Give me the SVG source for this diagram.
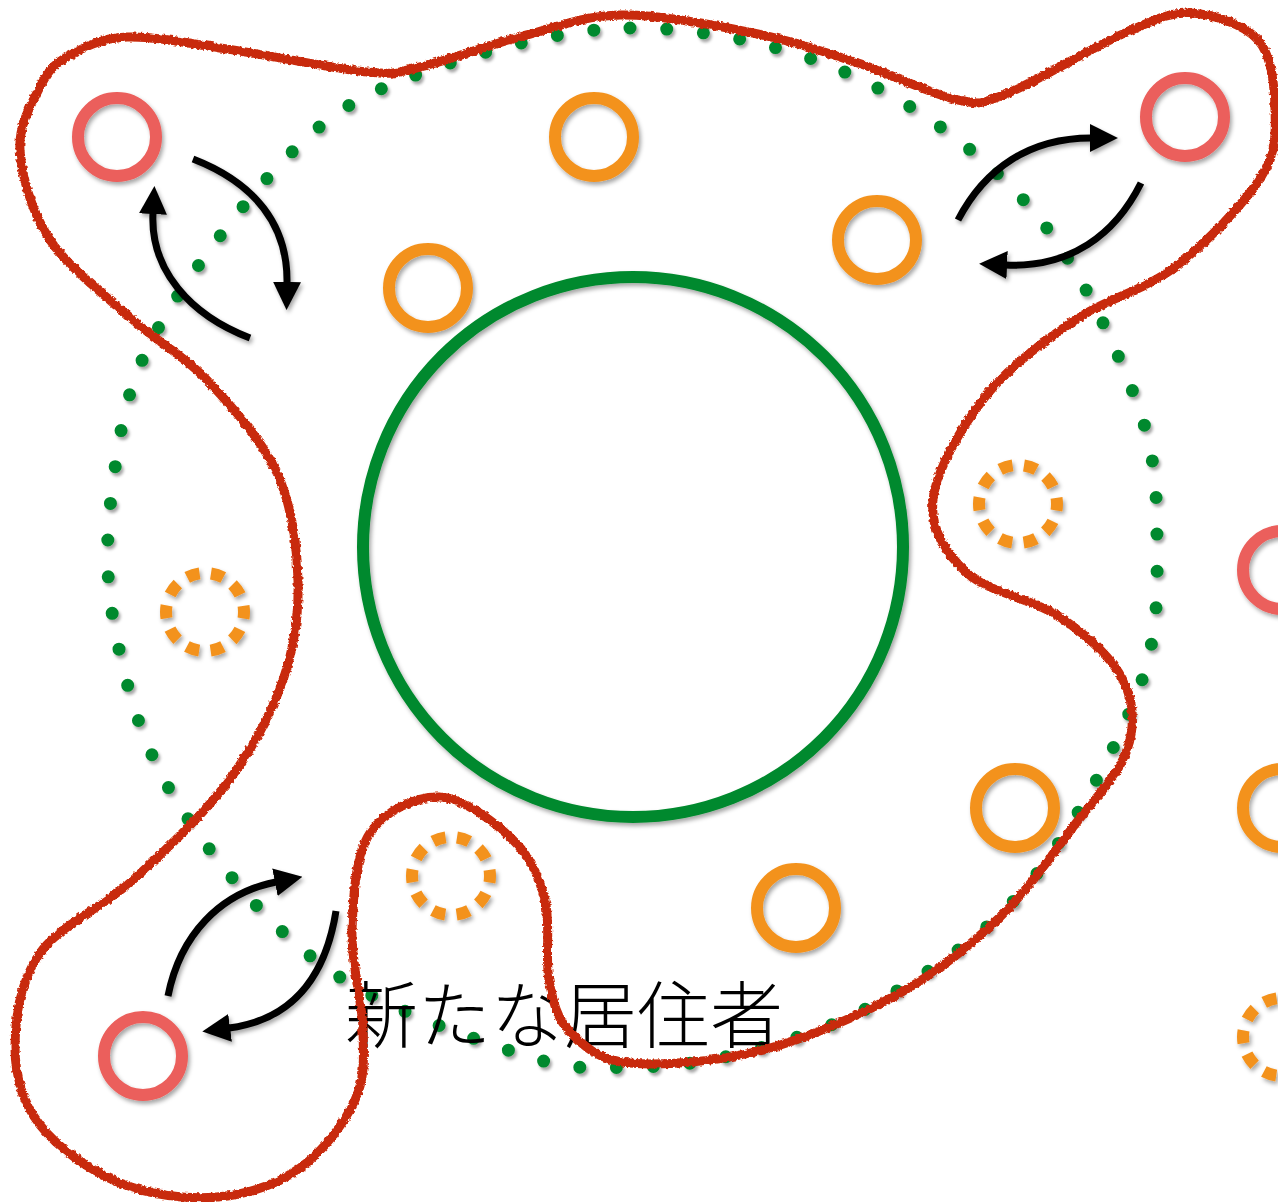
<svg xmlns="http://www.w3.org/2000/svg" width="1278" height="1202" viewBox="0 0 1278 1202">
<style>
.ring{fill:none;stroke-width:12}
.red{stroke:#EB5F5B}
.org{stroke:#F3921E}
.dash{stroke-dasharray:13 11.5;stroke-dashoffset:6.5}
.arrow{fill:none;stroke:#000;stroke-width:7;marker-end:url(#ah)}
.lbl{font-family:"Noto Sans CJK JP","Noto Sans",sans-serif;font-size:73px;font-weight:300;fill:#000}
</style>
<defs>
<filter id="sh" x="-30%" y="-30%" width="160%" height="160%">
<feDropShadow dx="2" dy="3" stdDeviation="2" flood-color="#000" flood-opacity="0.35"/>
</filter>
<filter id="dsh" filterUnits="userSpaceOnUse" x="0" y="0" width="1278" height="1202">
<feDropShadow dx="2" dy="3" stdDeviation="1.8" flood-color="#000" flood-opacity="0.35"/>
</filter>
<filter id="rough" filterUnits="userSpaceOnUse" x="0" y="0" width="1278" height="1202">
<feTurbulence type="fractalNoise" baseFrequency="0.3" numOctaves="3" seed="3" result="n"/>
<feDisplacementMap in="SourceGraphic" in2="n" scale="4" xChannelSelector="R" yChannelSelector="G"/>
</filter>
<marker id="ah" markerUnits="userSpaceOnUse" markerWidth="28" markerHeight="28" viewBox="0 0 26 26" refX="1" refY="13" orient="auto">
<path d="M0,0 L26,13 L0,26 Z" fill="#000"/>
</marker>
</defs>
<rect width="1278" height="1202" fill="#fff"/>

<g id="dotted-boundary" filter="url(#dsh)">
<path d="M630,28 C702.3,27.5 780.5,43.3 847,73 C913.5,102.7 980.8,151.5 1029,206 C1077.2,260.5 1114.7,343.2 1136,400 C1157.3,456.8 1156.8,498 1157,547 C1157.2,596 1158.7,637.5 1137,694 C1115.3,750.5 1069.8,834.8 1027,886 C984.2,937.2 927,973.3 880,1001 C833,1028.7 786,1041 745,1052 C704,1063 671,1066.5 634,1067 C597,1067.5 575,1072 523,1055 C471,1038 380.2,1008 322,965 C263.8,922 208.7,853.8 174,797 C139.3,740.2 124,677.7 114,624 C104,570.3 107,523.7 114,475 C121,426.3 126.8,385.3 156,332 C185.2,278.7 246.2,197.7 289,155 C331.8,112.3 356.2,97.2 413,76 C469.8,54.8 557.7,28.5 630,28 Z" fill="none" stroke="#06892D" stroke-width="13" stroke-linecap="round" stroke-dasharray="0 36.8"/>
</g>

<g id="center-circle" filter="url(#sh)">
<circle cx="633" cy="547" r="270" fill="none" stroke="#06892D" stroke-width="12"/>
</g>

<g id="nodes" filter="url(#sh)">
<g id="resident-red-1"><circle class="ring red" cx="117" cy="137" r="39"/></g>
<g id="resident-red-2"><circle class="ring red" cx="1185" cy="117" r="39"/></g>
<g id="resident-red-3"><circle class="ring red" cx="143" cy="1056" r="39"/></g>
<g id="resident-red-4"><circle class="ring red" cx="1282" cy="570" r="39"/></g>
<g id="resident-orange-1"><circle class="ring org" cx="594" cy="137" r="39"/></g>
<g id="resident-orange-2"><circle class="ring org" cx="428" cy="288" r="39"/></g>
<g id="resident-orange-3"><circle class="ring org" cx="877" cy="240" r="39"/></g>
<g id="resident-orange-4"><circle class="ring org" cx="1015" cy="808" r="39"/></g>
<g id="resident-orange-5"><circle class="ring org" cx="796" cy="908" r="39"/></g>
<g id="resident-orange-6"><circle class="ring org" cx="1282" cy="808" r="39"/></g>
<g id="new-resident-1"><circle class="ring org dash" cx="205" cy="612" r="39"/></g>
<g id="new-resident-2"><circle class="ring org dash" cx="1018" cy="504" r="39"/></g>
<g id="new-resident-3"><circle class="ring org dash" cx="451" cy="876" r="39"/></g>
<g id="new-resident-4"><circle class="ring org dash" cx="1282" cy="1037" r="39"/></g>
</g>

<g id="connectors" filter="url(#sh)">
<path class="arrow" d="M193,159 C255,183 288,225 287,283"/>
<path class="arrow" d="M250,338 C190,315 150,270 153,213"/>
<path class="arrow" d="M958,220 C985,168 1030,138 1091,138"/>
<path class="arrow" d="M1141,183 C1115,235 1070,268 1006,265"/>
<path class="arrow" d="M168,996 C180,935 220,893 276,882"/>
<path class="arrow" d="M336,911 C325,980 290,1020 229,1028"/>
</g>

<g id="label">
<text class="lbl" x="345" y="1042">新たな居住者</text>
</g>

<g id="red-boundary" filter="url(#rough)">
<path d="M67,57 C81.5,48.7 99.3,38.2 127,37 S193,44.2 233,50 S335.8,69.2 367,72 S394.5,72.8 420,67 S486.7,45.7 520,37 S581.2,15.7 620,15 S713.3,25 753,33 S823.8,51.8 858,63 S933,95 958,100 S980.2,104.2 1008,93 S1094.5,46.3 1125,33 S1168.8,11.8 1191,13 S1244,24.2 1258,40 S1274.5,85.2 1275,108 S1277.7,150.5 1261,177 S1206,243.2 1175,267 S1106.7,298.3 1075,320 S1008.7,367 985,397 S936,470.7 933,500 S945.8,553.5 967,573 S1034,599.2 1060,617 S1111.8,657.8 1123,680 S1135.3,725.5 1127,750 S1094.2,799.2 1073,827 S1028.8,889.3 1000,917 S939.5,970.8 900,993 S808,1038.3 763,1050 S662.2,1066 630,1063 S583.5,1045.8 570,1032 S553.2,1002 549,980 S551,923.3 545,900 S530.5,857.2 513,840 S463.8,798.2 440,797 S384.7,810.8 370,833 S353.2,897.2 352,930 S362.5,1001.7 363,1030 S365.5,1077 355,1100 S323,1151.8 300,1168 S247,1194.5 217,1197 S149.5,1195 120,1183 S57.5,1147.7 40,1125 S15,1075.7 15,1047 S20.3,980.8 40,953 S101.8,908.3 133,880 S202,816.3 227,783 S271.2,713.8 283,680 S299,614.5 298,580 S292.2,506.3 277,473 S231,405.5 207,380 S159.2,343.3 133,320 S68.8,268.3 50,240 S21.7,175.5 20,150 S32.2,102.5 40,87 S52.5,65.3 67,57 Z" fill="none" stroke="#C8290A" stroke-width="9" stroke-linejoin="round"/>
</g>
</svg>
